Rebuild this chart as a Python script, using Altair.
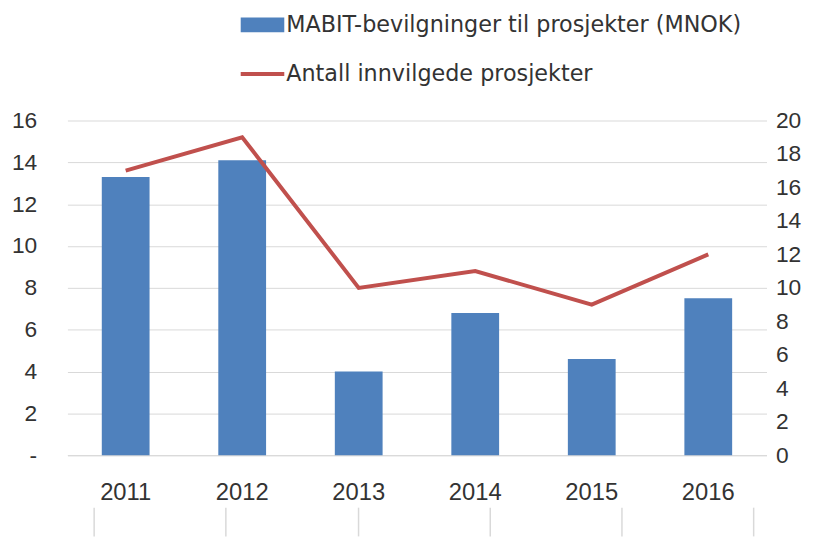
import altair as alt
import pandas as pd

years = ["2011", "2012", "2013", "2014", "2015", "2016"]
bevilgninger = [13.3, 14.1, 4.0, 6.8, 4.6, 7.5]
prosjekter = [17, 19, 10, 11, 9, 12]

bar_label = "MABIT-bevilgninger til prosjekter (MNOK)"
line_label = "Antall innvilgede prosjekter"

df = pd.DataFrame({"year": years, "mnok": bevilgninger, "antall": prosjekter})

FONT = "Liberation Sans"
LFONT = "DejaVu Sans"
TXT = "#333333"
BAR = "#4F81BD"
LINE = "#C0504D"
GRID = "#D9D9D9"

xscale = alt.Scale(paddingInner=0.59, paddingOuter=0.295)
xaxis = alt.Axis(labelAngle=0, labelFont=FONT, labelFontSize=24, labelColor=TXT,
                 labelPadding=26, ticks=False, domainColor=GRID, grid=False)

bars = alt.Chart(df).mark_bar(color=BAR).encode(
    x=alt.X("year:N", title=None, scale=xscale, axis=xaxis),
    y=alt.Y("mnok:Q", title=None,
            scale=alt.Scale(domain=[0, 16]),
            axis=alt.Axis(values=list(range(0, 17, 2)), labelFont=FONT, labelFontSize=23,
                          labelColor=TXT, labelPadding=31, ticks=False, domain=False,
                          gridColor=GRID, labelExpr="datum.value == 0 ? '-\u00a0\u00a0' : datum.label")),
)

line = alt.Chart(df).mark_line(color=LINE, strokeWidth=4).encode(
    x=alt.X("year:N", title=None, scale=xscale, axis=xaxis),
    y=alt.Y("antall:Q", title=None,
            scale=alt.Scale(domain=[0, 20]),
            axis=alt.Axis(orient="right", values=list(range(0, 21, 2)), labelFont=FONT,
                          labelFontSize=23, labelColor=TXT, labelPadding=9, ticks=False,
                          domain=False, grid=False)),
)

# legend (decoration)
leg_df = pd.DataFrame({"label": [bar_label, line_label]})
leg_rect = alt.Chart(leg_df).transform_filter(alt.datum.label == bar_label).mark_rect(color=BAR).encode(
    x=alt.value(175), x2=alt.value(219), y=alt.value(-104), y2=alt.value(-89))
leg_line = alt.Chart(leg_df).transform_filter(alt.datum.label == line_label).mark_rule(color=LINE, strokeWidth=4).encode(
    x=alt.value(175), x2=alt.value(219), y=alt.value(-47))
leg_text1 = alt.Chart(leg_df).transform_filter(alt.datum.label == bar_label).mark_text(
    align="left", baseline="middle", font=LFONT, fontSize=22.5, color=TXT).encode(
    x=alt.value(221), y=alt.value(-96), text="label:N")
leg_text2 = alt.Chart(leg_df).transform_filter(alt.datum.label == line_label).mark_text(
    align="left", baseline="middle", font=LFONT, fontSize=22.5, color=TXT).encode(
    x=alt.value(221), y=alt.value(-47), text="label:N")

# decorative tick lines under the axis labels
tick_pos = [27, 160, 294, 427, 560, 693]
ticks_df = pd.DataFrame({"px": tick_pos})
under_ticks = alt.layer(*[
    alt.Chart(ticks_df).transform_filter(alt.datum.px == p).mark_rule(color=GRID, strokeWidth=1.5).encode(
        x=alt.value(p), y=alt.value(391), y2=alt.value(420))
    for p in tick_pos
])

chart = alt.layer(bars, line, leg_rect, leg_line, leg_text1, leg_text2, under_ticks).resolve_scale(
    y="independent"
).properties(
    width=706, height=338,
    background="white",
    padding={"left": 60, "top": 111, "right": 54, "bottom": 80},
    autosize=alt.AutoSizeParams(type="none"),
).configure_view(strokeWidth=0, stroke=None)

chart.save("out.html", embed_options={"renderer": "svg", "actions": False})
